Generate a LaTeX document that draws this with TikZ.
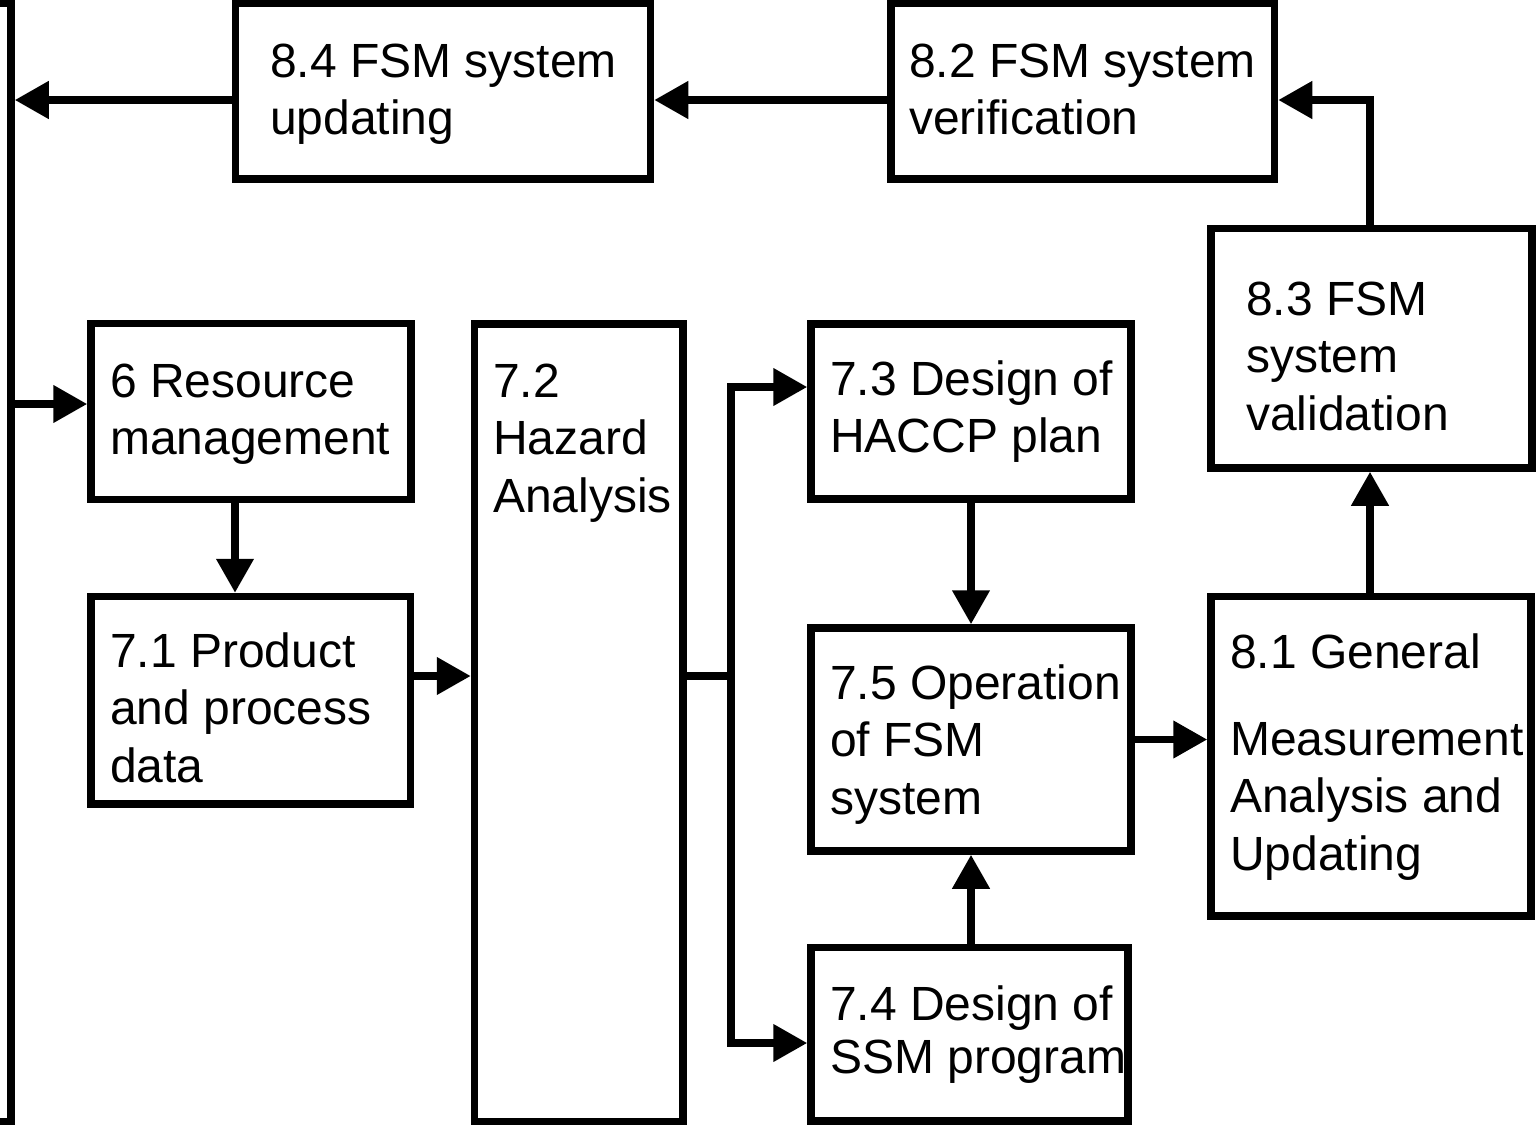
\documentclass[tikz,border=0pt]{standalone}
\usepackage{fontspec}
\setmainfont{Liberation Sans}
\usetikzlibrary{arrows.meta}
\newcommand\mylines[1]{\begin{tabular}[t]{@{}l@{}}#1\end{tabular}}
\begin{document}
\begin{tikzpicture}[x=1pt,y=-1pt,
  box/.style={draw, line width=7.5pt, inner sep=0pt, line join=miter},
  txt/.style={anchor=base west, inner sep=0pt, font=\fontsize{48}{57.5}\selectfont},
  conn/.style={line width=7.5pt},
  arr/.style={line width=7.5pt, -{Triangle[length=34pt,width=36pt]}}]
\useasboundingbox (0,0) rectangle (1538,1125);
% boxes
\node[box, minimum width=415pt, minimum height=175.5pt] (n84) at (443,91.25) {};
\node[box, minimum width=383.5pt, minimum height=175.5pt] (n82) at (1082.75,91.25) {};
\node[box, minimum width=321pt, minimum height=239.5pt] (n83) at (1371.5,348.25) {};
\node[box, minimum width=320pt, minimum height=176pt] (n6) at (251,411.5) {};
\node[box, minimum width=208.5pt, minimum height=797.5pt] (n72) at (578.75,722.75) {};
\node[box, minimum width=320pt, minimum height=175pt] (n73) at (971,411.5) {};
\node[box, minimum width=319.5pt, minimum height=207.5pt] (n71) at (250.75,700.25) {};
\node[box, minimum width=320pt, minimum height=223pt] (n75) at (971,739.5) {};
\node[box, minimum width=320pt, minimum height=319.5pt] (n81) at (1371,756.25) {};
\node[box, minimum width=317pt, minimum height=173.5pt] (n74) at (969.5,1034.25) {};
% texts
\node[txt] (t84) at (270,77) {\mylines{8.4 FSM system\\updating}};
\node[txt] (t82) at (909,77) {\mylines{8.2 FSM system\\verification}};
\node[txt] (t83) at (1246,315) {\mylines{8.3 FSM\\system\\validation}};
\node[txt] (t6) at (110,397) {\mylines{6 Resource\\management}};
\node[txt] (t72) at (493,397) {\mylines{7.2\\Hazard\\Analysis}};
\node[txt] (t73) at (830,395) {\mylines{7.3 Design of\\HACCP plan}};
\node[txt] (t71) at (110,667) {\mylines{7.1 Product\\and process\\data}};
\node[txt] (t75) at (830,699) {\mylines{7.5 Operation\\of FSM\\system}};
\node[txt] (t81) at (1230,668) {\mylines{8.1 General\\[29.5pt]Measurement\\Analysis and\\Updating}};
\node[txt] (t74) at (830,1020) {\mylines{7.4 Design of\\[-4.5pt]SSM program}};
% helper coordinates
\coordinate (lt) at (11,3.5);
\coordinate (lb) at (11,1121.5);
\coordinate (bus) at (14.75,0);
\coordinate (c100) at (0,100);
\coordinate (c404) at (0,404);
\coordinate (x235) at (235,0);
\coordinate (c676) at (0,676);
\coordinate (sp) at (731,676);
\coordinate (c387) at (0,387);
\coordinate (c1043) at (0,1043);
\coordinate (x1370) at (1370,0);
% left return line
\draw[conn, line join=miter] (0,3.5) -- (lt) -- (lb) -- (0,1121.5);
% connectors
\draw[arr] (n82.west |- c100) -- (n84.east |- c100);
\draw[arr] (n84.west |- c100) -- (bus |- c100);
\draw[arr] (lt |- c404) -- (n6.west |- c404);
\draw[arr] (n6.south -| x235) -- (n71.north -| x235);
\draw[arr] (n71.east |- c676) -- (n72.west |- c676);
\draw[conn] (n72.east |- c676) -- (sp);
\draw[arr, line join=miter] (sp) |- (n73.west |- c387);
\draw[arr, line join=miter] (sp) |- (n74.west |- c1043);
\draw[arr] (n73.south) -- (n75.north);
\draw[arr] (n74.north -| n75.south) -- (n75.south);
\draw[arr] (n75.east) -- (n81.west |- n75.east);
\draw[arr] (n81.north -| x1370) -- (n83.south -| x1370);
\draw[arr, line join=miter] (n83.north -| x1370) |- (n82.east |- c100);
\end{tikzpicture}
\end{document}
